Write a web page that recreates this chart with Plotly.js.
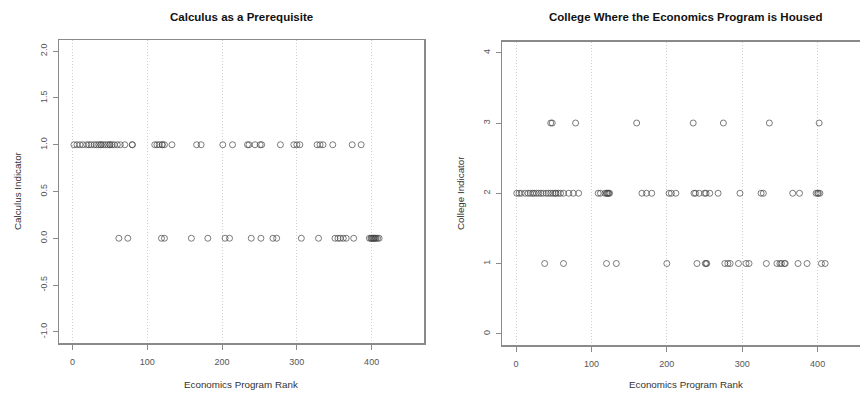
<!DOCTYPE html>
<html>
<head>
<meta charset="utf-8">
<script src="https://cdn.plot.ly/plotly-3.0.1.min.js"></script>
<style>html,body{margin:0;padding:0;background:#fff;}#chart{width:860px;height:394px;}</style>
</head>
<body>
<div id="chart"></div>
<script>
// Left panel: Calculus as a prerequisite (1 = yes, 0 = no)
const calcRankYes = [2, 6, 10, 14, 19, 22, 25, 29, 32, 35, 38, 38, 41, 44, 47, 50, 50, 53, 56, 60, 64, 70, 80, 80,
  110, 113, 116, 120, 120, 123, 133, 166, 172, 201, 214, 234, 236, 244, 251, 253, 278, 296, 300, 304,
  327, 331, 335, 348, 374, 386];
const calcRankNo = [62, 74, 119, 123, 159, 181, 204, 210, 239, 252, 268, 273, 306, 329, 351, 355, 358, 362,
  366, 376, 397, 399, 400, 401, 402, 403, 404, 405, 406, 408, 410];

// Right panel: college indicator (1, 2, 3)
const collegeRank1 = [38, 63, 120, 133, 200, 240, 251, 252, 253, 277, 281, 284, 295, 305, 309, 332, 346, 350,
  352, 356, 357, 374, 386, 405, 410];
const collegeRank2 = [1, 4, 7, 12, 16, 19, 22, 24, 27, 30, 33, 36, 40, 43, 46, 49, 52, 53, 56, 59, 63, 70, 76, 83,
  109, 112, 118, 120, 121, 122, 123, 124, 167, 173, 180, 203, 206, 212, 236, 238, 243, 250, 252, 257,
  268, 297, 325, 328, 367, 376, 398, 400, 401, 403];
const collegeRank3 = [46, 48, 79, 160, 235, 275, 336, 402];

const xTicks = [0, 100, 200, 300, 400];
const calcTicks = [-1.0, -0.5, 0.0, 0.5, 1.0, 1.5, 2.0];
const collegeTicks = [0, 1, 2, 3, 4];

const titles = ["Calculus as a Prerequisite", "College Where the Economics Program is Housed"];
const xLabel = "Economics Program Rank";
const yLabels = ["Calculus Indicator", "College Indicator"];

const W = 860, H = 394;
const px = v => v / W;
const py = v => 1 - v / H;

const mk = {symbol: 'circle-open', size: 6, color: 'rgba(70,70,70,0.7)', line: {width: 1}};

function pts(xs, yv, xa, ya) {
  return {x: xs, y: xs.map(() => yv), type: 'scatter', mode: 'markers', marker: mk,
    xaxis: xa, yaxis: ya, hoverinfo: 'skip', showlegend: false};
}

const data = [
  pts(calcRankYes, 1, 'x', 'y'),
  pts(calcRankNo, 0, 'x', 'y'),
  pts(collegeRank1, 1, 'x2', 'y2'),
  pts(collegeRank2, 2, 'x2', 'y2'),
  pts(collegeRank3, 3, 'x2', 'y2')
];

const lineCol = '#8a8a8a';
const tickFont = {family: 'Liberation Sans, Arial, sans-serif', size: 9, color: '#555'};

function xaxis(dom, rng, anchor) {
  return {domain: dom, range: rng, anchor: anchor, tickvals: xTicks, ticktext: xTicks.map(String),
    showline: true, linecolor: lineCol, linewidth: 1.5, mirror: true,
    ticks: 'outside', ticklen: 5, tickcolor: lineCol, tickfont: tickFont, ticklabelstandoff: 5,
    showgrid: true, gridcolor: '#d0d0d0', griddash: '1px,2px', gridwidth: 1, zeroline: false, fixedrange: true};
}
function yaxis(dom, rng, anchor, vals, txt, mirror) {
  return {domain: dom, range: rng, anchor: anchor, tickvals: vals, ticktext: txt,
    showline: true, linecolor: lineCol, linewidth: 1.5, mirror: mirror,
    ticks: 'outside', ticklen: 5, tickcolor: lineCol, tickfont: tickFont, tickangle: -90, ticklabelstandoff: 2,
    showgrid: false, zeroline: false, fixedrange: true};
}

const layout = {
  width: W, height: H,
  margin: {l: 0, r: 0, t: 0, b: 0},
  paper_bgcolor: '#fff', plot_bgcolor: '#fff',
  font: {family: 'Liberation Sans, Arial, sans-serif'},
  xaxis: xaxis([px(59), px(424)], [-18, 470], 'y'),
  yaxis: yaxis([py(343), py(40)], [-1.12, 2.12], 'x', calcTicks, calcTicks.map(v => v.toFixed(1)), true),
  xaxis2: xaxis([px(502), 1], [-18.6, 456.2], 'y2'),
  yaxis2: yaxis([py(345), py(41.5)], [-0.16, 4.16], 'x2', collegeTicks, collegeTicks.map(String), false),
  annotations: [
    {text: '<b>' + titles[0] + '</b>', x: px(241), y: py(17), xref: 'paper', yref: 'paper', showarrow: false,
     font: {size: 11.5, color: '#111'}, xanchor: 'center', yanchor: 'middle'},
    {text: '<b>' + titles[1] + '</b>', x: px(686), y: py(17), xref: 'paper', yref: 'paper', showarrow: false,
     font: {size: 11.5, color: '#111'}, xanchor: 'center', yanchor: 'middle'},
    {text: xLabel, x: px(241), y: py(384), xref: 'paper', yref: 'paper', showarrow: false,
     font: {size: 9.8, color: '#333'}, xanchor: 'center', yanchor: 'middle'},
    {text: xLabel, x: px(686), y: py(384), xref: 'paper', yref: 'paper', showarrow: false,
     font: {size: 9.8, color: '#333'}, xanchor: 'center', yanchor: 'middle'},
    {text: yLabels[0], x: px(17), y: py(191), xref: 'paper', yref: 'paper', showarrow: false, textangle: -90,
     font: {size: 9.8, color: '#333'}, xanchor: 'center', yanchor: 'middle'},
    {text: yLabels[1], x: px(460), y: py(193), xref: 'paper', yref: 'paper', showarrow: false, textangle: -90,
     font: {size: 9.8, color: '#333'}, xanchor: 'center', yanchor: 'middle'}
  ]
};

Plotly.newPlot('chart', data, layout, {staticPlot: true, displayModeBar: false});
</script>
</body>
</html>
